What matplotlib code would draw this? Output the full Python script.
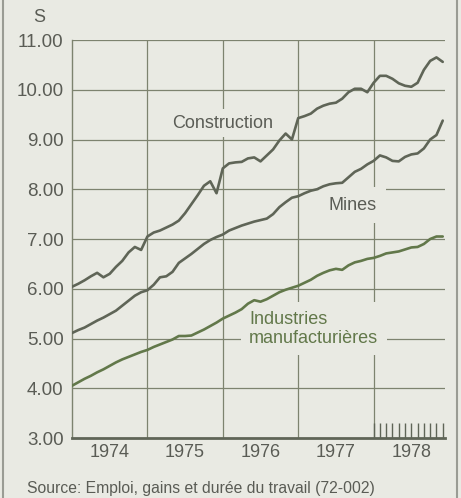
import matplotlib
matplotlib.use('Agg')
import matplotlib.pyplot as plt
from matplotlib.lines import Line2D
import numpy as np

# monthly average hourly earnings, Jan 1974 - Dec 1978
construction = [6.04, 6.10, 6.17, 6.25, 6.32, 6.23, 6.30, 6.44, 6.56, 6.73, 6.84, 6.78,
                7.05, 7.13, 7.17, 7.23, 7.29, 7.37, 7.52, 7.70, 7.88, 8.07, 8.16, 7.92,
                8.42, 8.52, 8.54, 8.55, 8.62, 8.64, 8.56, 8.68, 8.80, 8.98, 9.12, 9.00,
                9.43, 9.47, 9.52, 9.62, 9.68, 9.72, 9.74, 9.82, 9.95, 10.02, 10.02, 9.95,
                10.14, 10.28, 10.28, 10.22, 10.13, 10.08, 10.06, 10.14, 10.40, 10.58, 10.65, 10.56]
mines = [5.11, 5.17, 5.22, 5.29, 5.36, 5.42, 5.49, 5.56, 5.66, 5.76, 5.86, 5.93,
         5.97, 6.08, 6.23, 6.25, 6.34, 6.52, 6.61, 6.70, 6.80, 6.90, 6.98, 7.04,
         7.09, 7.17, 7.22, 7.27, 7.31, 7.35, 7.38, 7.41, 7.50, 7.64, 7.74, 7.83,
         7.86, 7.92, 7.97, 8.00, 8.06, 8.10, 8.12, 8.13, 8.24, 8.35, 8.41, 8.50,
         8.57, 8.68, 8.64, 8.57, 8.56, 8.65, 8.70, 8.72, 8.82, 9.00, 9.09, 9.38]
industries = [4.05, 4.12, 4.19, 4.25, 4.32, 4.38, 4.45, 4.52, 4.58, 4.63, 4.68, 4.73,
              4.77, 4.83, 4.88, 4.93, 4.98, 5.05, 5.05, 5.06, 5.12, 5.18, 5.25, 5.32,
              5.40, 5.46, 5.52, 5.59, 5.70, 5.77, 5.74, 5.79, 5.86, 5.93, 5.98, 6.02,
              6.06, 6.12, 6.18, 6.26, 6.32, 6.37, 6.40, 6.38, 6.47, 6.53, 6.56, 6.60,
              6.62, 6.66, 6.71, 6.73, 6.75, 6.79, 6.83, 6.84, 6.90, 7.00, 7.05, 7.05]
years = [1974, 1975, 1976, 1977, 1978]
y_ticks = [3, 4, 5, 6, 7, 8, 9, 10, 11]
y_labels = ['3.00', '4.00', '5.00', '6.00', '7.00', '8.00', '9.00', '10.00', '11.00']

bg = '#e9eae3'
dark = '#5f6557'
green = '#62784a'
grid_c = '#7d836f'
text_c = '#5a5c55'

plt.rcParams['font.family'] = ['Liberation Sans', 'DejaVu Sans']

t = 1974 + np.arange(len(construction)) / 12.0

fig = plt.figure(figsize=(4.61, 4.98), dpi=100, facecolor=bg)
ax = fig.add_axes([72 / 461, 60 / 498, 373 / 461, 398 / 498])
ax.set_facecolor(bg)

ax.set_xlim(t[0], t[-1] + 0.03)
ax.set_ylim(3, 11)

# grid
for yv in y_ticks[1:]:
    ax.axhline(yv, color=grid_c, lw=0.9, zorder=1)
for yr in years[1:]:
    ax.axvline(yr, color=grid_c, lw=0.9, zorder=1)

ax.plot(t, construction, color=dark, lw=1.9, zorder=5, solid_capstyle='round')
ax.plot(t, mines, color=dark, lw=1.9, zorder=5, solid_capstyle='round')
ax.plot(t, industries, color=green, lw=1.9, zorder=5, solid_capstyle='round')

for s in ['top', 'right']:
    ax.spines[s].set_visible(False)
ax.spines['left'].set_color(grid_c)
ax.spines['left'].set_linewidth(1.0)
ax.spines['bottom'].set_color(dark)
ax.spines['bottom'].set_linewidth(2.0)

ax.set_yticks(y_ticks)
ax.set_yticklabels(y_labels)
ax.set_xticks([y + 0.5 for y in years])
ax.set_xticklabels([str(y) for y in years])
ax.xaxis.remove_overlapping_locs = False
ax.set_xticks([1978 + k / 12.0 for k in range(12)], minor=True)
ax.tick_params(axis='both', which='major', length=0, labelcolor=text_c)
ax.tick_params(axis='y', labelsize=13.5, pad=6)
ax.tick_params(axis='x', labelsize=13, pad=4)
ax.tick_params(axis='x', which='minor', direction='in', length=11, width=1.0, color=dark)

ax.text(1976.0, 9.33, 'Construction', color=text_c, fontsize=13, ha='center', va='center',
        bbox=dict(facecolor=bg, edgecolor='none', pad=4), zorder=4)
ax.text(1977.72, 7.68, 'Mines', color=text_c, fontsize=13, ha='center', va='center',
        bbox=dict(facecolor=bg, edgecolor='none', pad=7), zorder=4)
ax.text(1976.35, 5.2, 'Industries\nmanufacturières', color=green, fontsize=13, ha='left',
        va='center', linespacing=1.15, bbox=dict(facecolor=bg, edgecolor='none', pad=6),
        zorder=4)

fig.text(39 / 461, 1 - 17 / 498, 'S', color=text_c, fontsize=13, ha='center', va='center')
fig.text(27 / 461, 1 - 488 / 498, 'Source: Emploi, gains et durée du travail (72-002)',
         color=text_c, fontsize=11.3, ha='left', va='center')

# page frame
fig.add_artist(Line2D([3 / 461, 3 / 461], [0, 1], color='#9a9c94', lw=1.5))
fig.add_artist(Line2D([457 / 461, 457 / 461], [0, 1], color='#9a9c94', lw=1.5))

fig.savefig('out.png', dpi=100, facecolor=bg)
